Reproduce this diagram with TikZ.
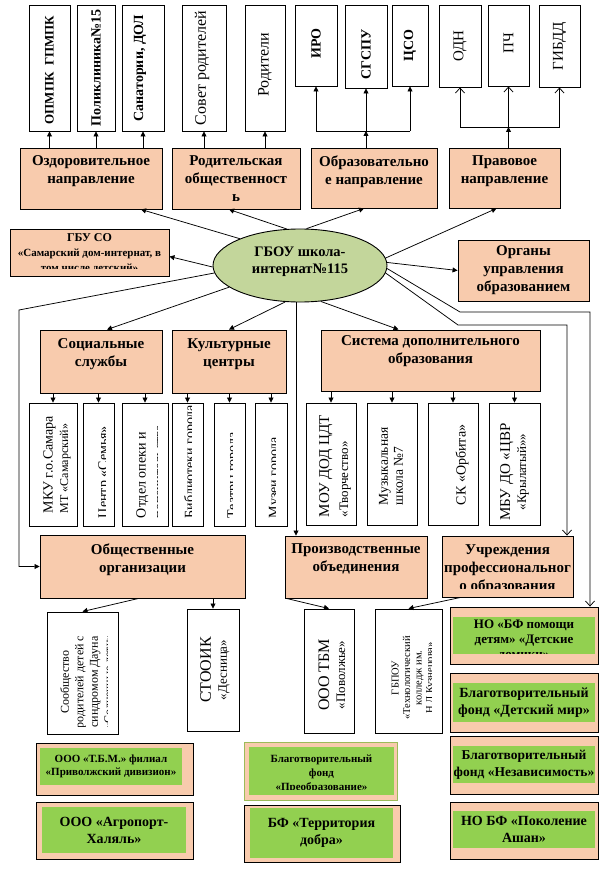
\documentclass[tikz,border=0pt]{standalone}
\usepackage{fontspec}
\setmainfont{Liberation Serif}
\usetikzlibrary{positioning,shapes.geometric,arrows.meta}
\definecolor{peach}{HTML}{F8CBAD}
\definecolor{leaf}{HTML}{92D050}
\definecolor{olive}{HTML}{C3D69B}
\definecolor{moss}{HTML}{9BBB59}
\newcommand\fsz[2]{\fontsize{#1}{#2}\selectfont}
\newcommand\cliparea[3]{\clip ([xshift=1pt,yshift=#3]#1.south west) rectangle ([xshift=-#2,yshift=-1pt]#1.north east);}
\begin{document}
\begin{tikzpicture}[x=1pt,y=-1pt,line width=0.75pt,
  sz/.style 2 args={minimum width=#1pt,minimum height=#2pt},
  wbox/.style={draw,fill=white,line width=0.9pt,inner sep=0pt},
  obox/.style={draw,fill=peach,line width=0.9pt,inner sep=0pt},
  gbox/.style={fill=leaf,inner sep=0pt,align=center,font=\fsz{14}{17}\bfseries},
  ttl/.style={align=center,inner sep=0pt,font=\fsz{15}{18}\bfseries},
  vt/.style={rotate=90,align=center,inner sep=0pt,font=\fsz{16}{18}},
  vtb/.style={vt,font=\fsz{14}{16}\bfseries},
  arr/.style={-{Triangle[length=5pt,width=5pt]}},
  oarr/.style={-{Straight Barb[length=5pt,width=9pt]}}]
\useasboundingbox (0,0) rectangle (608,877);
\fill[white] (0,0) rectangle (608,877);

\node[wbox,sz={41}{126}] (opmpk) at (49.5,68) {};
\node[vtb,font=\fsz{13}{16}\bfseries] (opmpkt) at ([yshift=-2pt]opmpk) {ОПМПК\ \ ГПМПК};
\node[wbox,sz={38}{126}] (polik) at (96,68) {};
\node[vtb] (polikt) at (polik) {Поликлиника№15};
\node[wbox,sz={42}{126}] (sanat) at (143,68) {};
\node[vtb] (sanatt) at ([xshift=-3pt]sanat) {Санатории, ДОЛ};
\node[wbox,sz={44}{126}] (sovet) at (204,68) {};
\node[vt] (sovett) at ([xshift=-2pt]sovet) {Совет родителей};
\node[wbox,sz={40}{126}] (rodit) at (265,68) {};
\node[vt] (roditt) at ([yshift=3pt]rodit) {Родители};
\node[wbox,sz={42}{81}] (iro) at (316,45.5) {};
\node[vtb] (irot) at ([yshift=2pt]iro) {ИРО};
\node[wbox,sz={42}{83}] (sgspu) at (366,46.5) {};
\node[vtb] (sgsput) at ([yshift=-8pt]sgspu) {СГСПУ};
\node[wbox,sz={36}{81}] (tso) at (410,45.5) {};
\node[vtb] (tsot) at (tso) {ЦСО};
\node[wbox,sz={42}{82}] (odn) at (460,46) {};
\node[vt,font=\fsz{15}{17}] (odnt) at (odn) {ОДН};
\node[wbox,sz={41}{81}] (pch) at (508.5,45.5) {};
\node[vt,font=\fsz{15}{17}] (pcht) at ([yshift=2pt]pch) {ПЧ};
\node[wbox,sz={41}{82}] (gibdd) at (559.5,46) {};
\node[vt,font=\fsz{15}{17}] (gibddt) at (gibdd) {ГИБДД};

\node[obox,sz={142}{61}] (ozd) at (91,178.5) {};
\node[ttl,below=8pt of ozd.north] (ozdt) {Оздоровительное\\направление};
\node[obox,sz={128}{61}] (rod) at (236,178.5) {};
\node[ttl,below=8pt of rod.north] (rodt) {Родительская\\общественност\\ь};
\node[obox,sz={126}{60}] (obr) at (374,178) {};
\node[ttl,below=8pt of obr.north] (obrt) {Образовательно\\е направление};
\node[obox,sz={111}{60}] (prav) at (504.5,178) {};
\node[ttl,below=8pt of prav.north] (pravt) {Правовое\\направление};

\node[obox,sz={159}{47}] (gbu) at (89.5,252.5) {};
\begin{scope}\cliparea{gbu}{1pt}{8pt}
\node[ttl,font=\fsz{11}{15}\bfseries,below=5pt of gbu.north] (gbut) {{\fsz{12}{15}ГБУ СО}\\«Самарский дом-интернат, в\\том числе детский»};
\end{scope}
\node[ellipse,draw,fill=olive,line width=0.9pt,sz={174}{73}] (sch) at (300,265.5) {};
\node[ttl,font=\fsz{14.5}{17}\bfseries] (scht) at ([yshift=4pt]sch) {ГБОУ школа-\\интернат№115};
\node[obox,ttl,sz={131}{61}] (organy) at (523.5,270.5) {Органы\\управления\\образованием};

\node[obox,sz={122}{63}] (soc) at (101,361.5) {};
\node[ttl,below=9pt of soc.north] (soct) {Социальные\\службы};
\node[obox,sz={114}{63}] (kult) at (229,361.5) {};
\node[ttl,below=9pt of kult.north] (kultt) {Культурные\\центры};
\node[obox,sz={219}{61}] (sist) at (430.5,360.5) {};
\node[ttl,below=6pt of sist.north] (sistt) {Система дополнительного\\образования};

\node[wbox,sz={48}{123}] (mku) at (53,464.5) {};
\begin{scope}\cliparea{mku}{1pt}{1pt}
\node[vt,anchor=west,align=left,font=\fsz{14}{15.5}] (mkut) at ([xshift=4pt,yshift=13pt]mku.south) {МКУ г.о.Самара\\{\fsz{12}{15.5}МТ «Самарский»}};
\end{scope}
\node[wbox,sz={31}{123}] (semya) at (98.5,464.5) {};
\begin{scope}\cliparea{semya}{9pt}{1pt}
\node[vt,anchor=west,font=\fsz{14}{16}] (semyat) at ([xshift=6pt,yshift=8pt]semya.south) {Центр «Семья»};
\end{scope}
\node[wbox,sz={46}{123}] (opeka) at (145,464.5) {};
\begin{scope}\cliparea{opeka}{11pt}{1pt}
\node[vt,anchor=west,align=left,font=\fsz{14}{18}] (opekat) at ([xshift=5pt,yshift=8pt]opeka.south) {Отдел опеки и\\попечительства};
\end{scope}
\node[wbox,sz={31}{123}] (bibl) at (187.5,464.5) {};
\begin{scope}\cliparea{bibl}{12pt}{1pt}
\node[vt,anchor=west,font=\fsz{14}{16}] (biblt) at ([xshift=3pt,yshift=8pt]bibl.south) {Библиотеки города};
\end{scope}
\node[wbox,sz={31}{123}] (teatr) at (229.5,464.5) {};
\begin{scope}\cliparea{teatr}{13pt}{1pt}
\node[vt,anchor=west,font=\fsz{14}{16}] (teatrt) at ([xshift=4pt,yshift=8pt]teatr.south) {Театры города};
\end{scope}
\node[wbox,sz={32}{123}] (muzei) at (271,464.5) {};
\begin{scope}\cliparea{muzei}{12pt}{1pt}
\node[vt,anchor=west,font=\fsz{14}{16}] (muzeit) at ([xshift=4pt,yshift=8pt]muzei.south) {Музеи города};
\end{scope}
\node[wbox,sz={50}{122}] (mou) at (331,464) {};
\node[vt,anchor=west,align=left,font=\fsz{15}{19}] (mout) at ([xshift=4pt,yshift=8pt]mou.south) {МОУ ДОД ЦДТ\\{\fsz{13}{19}«Творчество»}};
\node[wbox,sz={50}{122}] (muz) at (392,464) {};
\node[vt,anchor=west,align=left,font=\fsz{13.5}{15}] (muzt) at ([xshift=-1pt,yshift=20pt]muz.south) {Музыкальная\\школа №7};
\node[wbox,sz={50}{122}] (sk) at (453,464) {};
\node[vt,anchor=west,font=\fsz{14}{16}] (skt) at ([xshift=9pt,yshift=20pt]sk.south) {СК «Орбита»};
\node[wbox,sz={51}{122}] (mbu) at (514.5,464) {};
\node[vt,font=\fsz{15}{16}] (mbut) at ([yshift=-8pt]mbu) {МБУ ДО «ЦВР\\{\fsz{13}{16}«Крылатый»»}};

\node[obox,sz={205}{63}] (obsch) at (142.5,566.5) {};
\node[ttl,below=9pt of obsch.north] (obscht) {Общественные\\организации};
\node[obox,sz={142}{62}] (proizv) at (356,567) {};
\node[ttl,below=7.5pt of proizv.north] (proizvt) {Производственные\\объединения};
\node[obox,sz={131}{61}] (uchr) at (507.5,566.5) {};
\begin{scope}\cliparea{uchr}{1pt}{9pt}
\node[ttl,below=8.5pt of uchr.north] (uchrt) {Учреждения\\профессиональног\\о образования};
\end{scope}

\node[wbox,sz={71}{122}] (soob) at (82.5,673) {};
\begin{scope}\cliparea{soob}{11pt}{8pt}
\node[vt,font=\fsz{12}{14.5}] (soobt) at ([xshift=5pt,yshift=-9pt]soob) {Сообщество\\родителей детей с\\синдромом Дауна\\«Солнечные дети»};
\end{scope}
\node[wbox,sz={52}{122}] (stoik) at (213,670) {};
\node[vt,font=\fsz{16}{16}] (stoikt) at ([xshift=2pt]stoik) {СТООИК\\{\fsz{13}{16}«Десница»}};
\node[wbox,sz={50}{124}] (tbm) at (329,671) {};
\node[vt,font=\fsz{16}{16}] (tbmt) at ([xshift=3pt,yshift=-4pt]tbm) {ООО ТБМ\\{\fsz{13}{16}«Поволжье»}};
\node[wbox,sz={67}{124}] (gbpou) at (408.5,671) {};
\begin{scope}\cliparea{gbpou}{11pt}{1pt}
\node[vt,font=\fsz{10.5}{11.5}] (gbpout) at ([xshift=5pt,yshift=-7pt]gbpou) {ГБПОУ\\«Технологический\\колледж им.\\Н.Д.Кузнецова»};
\end{scope}

\node[obox,sz={148}{57}] (g1) at (524,635.5) {};
\node[fill=leaf,inner sep=0pt,sz={142}{37}] (g1g) at (524,635.5) {};
\begin{scope}\cliparea{g1}{1pt}{11pt}
\node[ttl,font=\fsz{13}{15}\bfseries,below=13pt of g1.north] (g1t) {НО «БФ помощи\\детям» «Детские\\домики»};
\end{scope}
\node[obox,sz={148}{59}] (g2) at (524,702.5) {};
\node[gbox,sz={142}{39}] (g2g) at (524,702.5) {Благотворительный\\фонд «Детский мир»};
\node[obox,sz={148}{58}] (g3) at (524,765) {};
\node[gbox,sz={142}{37},font=\fsz{13.5}{17}\bfseries] (g3g) at (524,764.5) {Благотворительный\\фонд «Независимость»};
\node[obox,sz={148}{57}] (g4) at (524,830.5) {};
\node[gbox,sz={142}{37}] (g4g) at (524,829.5) {НО БФ «Поколение\\Ашан»};
\node[obox,sz={157}{52}] (g5) at (114.5,769) {};
\node[gbox,sz={142}{37},font=\fsz{11}{13}\bfseries] (g5g) at (111,766.5) {ООО «Т.Б.М.» филиал\\«Приволжский дивизион»};
\node[obox,sz={157}{57}] (g6) at (114.5,830.5) {};
\node[gbox,sz={144}{46}] (g6g) at (114,830) {ООО «Агропорт-\\Халяль»};
\node[obox,draw=moss,sz={153}{58}] (g7) at (320.5,771) {};
\node[fill=leaf,inner sep=0pt,sz={145}{48}] (g7g) at (321.5,771) {};
\begin{scope}\cliparea{g7g}{1pt}{6pt}
\node[ttl,font=\fsz{11}{14}\bfseries] (g7t) at ([yshift=-3pt]g7g) {Благотворительный\\фонд\\«Преобразование»};
\end{scope}
\node[obox,sz={156}{57}] (g8) at (322,833.5) {};
\node[gbox,sz={143}{50}] (g8g) at (321.5,833) {БФ «Территория\\добра»};

\draw[arr] (ozd.north -| opmpk) -- (opmpk.south);
\draw[arr] (ozd.north -| polik) -- (polik.south);
\draw[arr] (ozd.north -| sanat) -- (sanat.south);
\draw[arr] (rod.north -| sovet) -- (sovet.south);
\draw[arr] (rod.north -| rodit) -- (rodit.south);
\coordinate (obus) at (366,131);
\draw[arr] (obr.north -| obus) -- (obus);
\draw (obus -| iro) -- (obus -| tso);
\draw[arr] (obus -| iro) -- (iro.south);
\draw[arr] (obus) -- (sgspu.south);
\draw[arr] (obus -| tso) -- (tso.south);
\coordinate (pbus) at (508.5,127);
\draw[arr] (prav.north -| pbus) -- (pbus);
\draw (pbus -| odn) -- (pbus -| gibdd);
\draw[oarr] (pbus -| odn) -- (odn.south);
\draw[oarr] (pbus) -- (pch.south);
\draw[oarr] (pbus -| gibdd) -- (gibdd.south);

\draw[arr] (sch.156) -- ([xshift=50pt]ozd.south);
\draw[arr] (sch.110) -- ([xshift=-7pt]rod.south);
\draw[arr] (sch.80) -- ([xshift=-10pt]obr.south);
\draw[arr] (sch.5) -- ([xshift=-8pt]prav.south);
\draw[arr] (sch.181) -- ([yshift=-4pt]gbu.east);
\draw[arr] (sch.2) -- (organy.west);
\coordinate (k1) at (19,310);
\draw[arr] (sch.185) -- (k1) -- (k1 |- obsch.west) -- (obsch.west);
\draw[arr] (sch.197) -- ([xshift=6pt]soc.north);
\draw[arr] (sch.248) -- (kult.north);
\coordinate (pz) at ([xshift=-4pt]sch.south);
\draw[arr] (pz) -- (pz |- proizv.north);
\draw[arr] (sch.300) -- ([xshift=-32pt]sist.north);
\coordinate (k2) at (460,312);
\coordinate (k3) at (590,312);
\draw[oarr] (sch.358) -- (k2) -- (k3) -- (k3 |- g1.north);
\coordinate (k4) at (458,325);
\coordinate (k5) at (567,325);
\draw[oarr] (sch.355) -- (k4) -- (k5) -- (k5 |- uchr.north);

\draw[arr] (soc.south -| mku) -- (mku.north);
\draw[arr] (soc.south -| semya) -- (semya.north);
\draw[arr] (soc.south -| opeka) -- (opeka.north);
\draw[arr] (kult.south -| bibl) -- (bibl.north);
\draw[arr] (kult.south -| teatr) -- (teatr.north);
\draw[arr] (kult.south -| muzei) -- (muzei.north);
\draw[arr] (sist.south -| mou) -- (mou.north);
\draw[arr] (sist.south -| muz) -- (muz.north);
\draw[arr] (sist.south -| sk) -- (sk.north);
\draw[arr] (sist.south -| mbu) -- (mbu.north);

\draw[arr] ([xshift=-4pt]obsch.south) -- (soob.north);
\draw[arr] (obsch.south -| stoik) -- (stoik.north);
\draw[arr] ([xshift=2pt]proizv.south west) -- (tbm.north);
\draw[arr] ([xshift=-47pt]uchr.south) -- (gbpou.north);
\end{tikzpicture}
\end{document}
